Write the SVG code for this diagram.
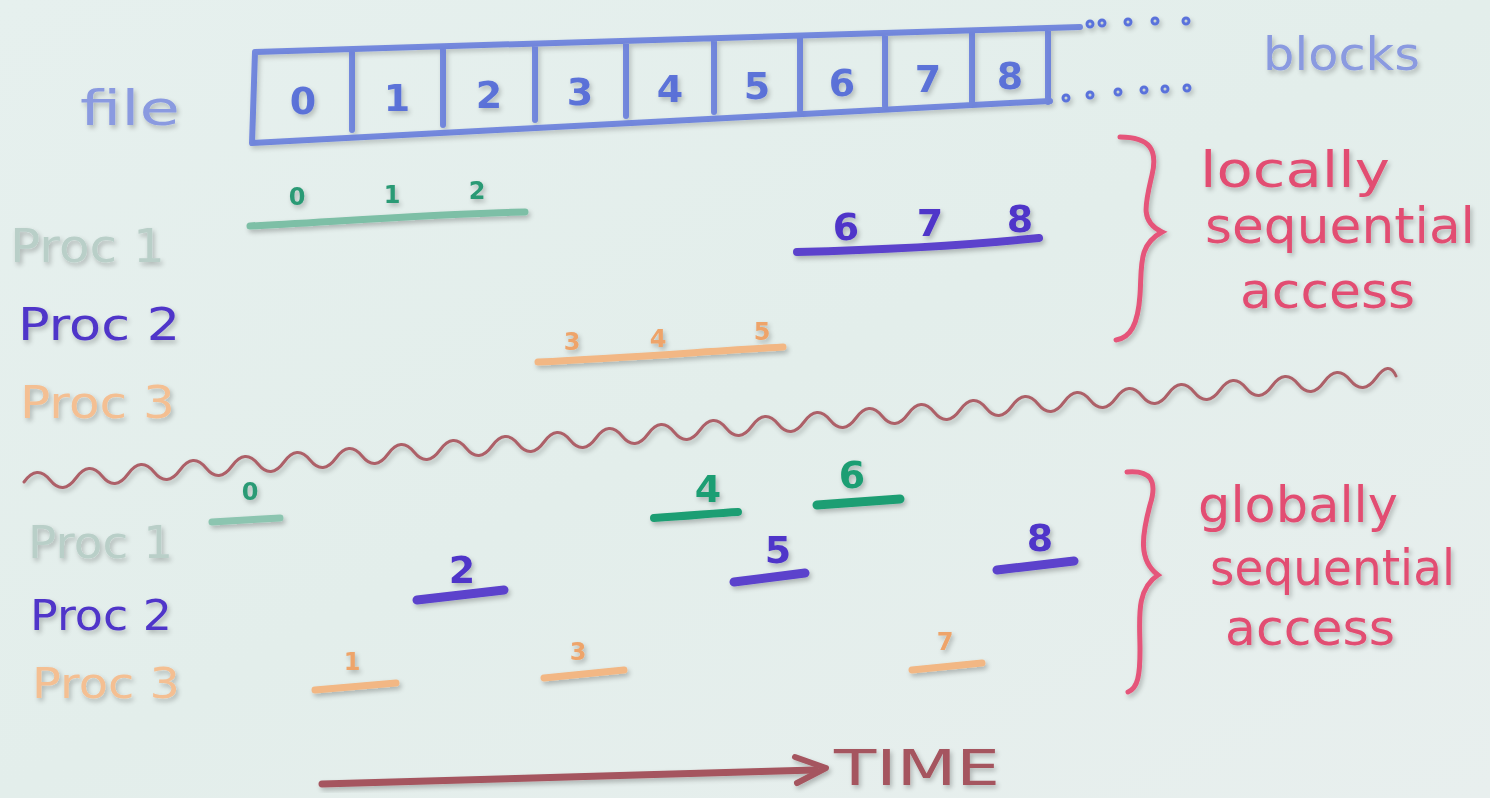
<svg xmlns="http://www.w3.org/2000/svg" width="1490" height="798" viewBox="0 0 1490 798">
<defs>
<linearGradient id="bg" x1="0" y1="0" x2="1" y2="1">
<stop offset="0" stop-color="#e6f0ee"/>
<stop offset="0.5" stop-color="#e3eeeb"/>
<stop offset="1" stop-color="#e8efee"/>
</linearGradient>
<filter id="ink" x="-10%" y="-30%" width="120%" height="160%">
<feGaussianBlur in="SourceAlpha" stdDeviation="2.5"/>
<feOffset dx="2" dy="3" result="b"/>
<feComponentTransfer><feFuncA type="linear" slope="0.25"/></feComponentTransfer>
<feMerge><feMergeNode/><feMergeNode in="SourceGraphic"/></feMerge>
</filter>
</defs>
<style>
text{font-family:"DejaVu Sans","Liberation Sans",sans-serif;}
.blue{fill:#5068d8;}
.lblue{fill:#8a9ae0;}
.pink{fill:#e24d72;}
.pinks{stroke:#e5557a;}
.g1{fill:#b9cfc8;}
.pu{fill:#4f36c9;}
.or{fill:#f4bf92;}
.seg{fill:none;stroke-linecap:round;}
.strip{fill:none;stroke:#5a72db;stroke-width:6;stroke-linecap:round;stroke-linejoin:round;opacity:0.8;}
.num{font-size:38px;text-anchor:middle;}
.small{font-size:24px;text-anchor:middle;font-weight:bold;}
</style>
<rect x="0" y="0" width="1490" height="798" fill="url(#bg)"/>

<g id="file-label" filter="url(#ink)">
<text x="80" y="125" class="lblue" font-size="48" textLength="100" lengthAdjust="spacingAndGlyphs">file</text>
</g>

<g id="file-strip" filter="url(#ink)">
<path class="strip" d="M255,52 L1080,27 M252,143 L1050,101 M255,52 L252,143 M352,50 L352,130 M443,47 L443,125 M535,44 L535,120 M626,42 L626,116 M714,40 L714,112 M800,37 L800,110 M885,35 L885,106 M972,33 L972,103 M1048,30 L1048,102"/>
<g class="blue" opacity="0.9" font-weight="bold">
<text class="num" x="303" y="114" font-size="40">0</text>
<text class="num" x="397" y="111">1</text>
<text class="num" x="489" y="108">2</text>
<text class="num" x="580" y="105" font-size="40">3</text>
<text class="num" x="670" y="102">4</text>
<text class="num" x="757" y="99">5</text>
<text class="num" x="842" y="96" font-size="40">6</text>
<text class="num" x="928" y="92">7</text>
<text class="num" x="1010" y="89" font-size="40">8</text>
</g>
<g fill="none" stroke="#5a72db" stroke-width="3">
<circle cx="1090" cy="24" r="3"/><circle cx="1102" cy="23" r="3"/><circle cx="1128" cy="22" r="3"/><circle cx="1155" cy="21" r="3"/><circle cx="1186" cy="21" r="3"/>
<circle cx="1066" cy="98" r="3"/><circle cx="1090" cy="95" r="3"/><circle cx="1118" cy="92" r="3"/><circle cx="1144" cy="90" r="3"/><circle cx="1165" cy="89" r="3"/><circle cx="1187" cy="88" r="3"/>
</g>
</g>

<g id="blocks-label" filter="url(#ink)">
<text x="1263" y="70" class="lblue" font-size="46" textLength="157" lengthAdjust="spacingAndGlyphs">blocks</text>
</g>

<g id="local-brace" filter="url(#ink)">
<path class="seg pinks" stroke-width="5" d="M1120,137 C1150,137 1158,150 1152,175 C1145,205 1140,222 1162,232 C1138,245 1142,265 1140,295 C1138,325 1130,338 1116,340"/>
<text x="1200" y="187" class="pink" font-size="50" textLength="190" lengthAdjust="spacingAndGlyphs">locally</text>
<text x="1205" y="243" class="pink" font-size="50" textLength="270" lengthAdjust="spacingAndGlyphs">sequential</text>
<text x="1240" y="308" class="pink" font-size="50" textLength="175" lengthAdjust="spacingAndGlyphs">access</text>
</g>

<g id="local-proc-labels" filter="url(#ink)">
<text x="10" y="262" class="g1" font-size="46" textLength="155" lengthAdjust="spacingAndGlyphs">Proc 1</text>
<text x="18" y="340" class="pu" font-size="44" textLength="162" lengthAdjust="spacingAndGlyphs">Proc 2</text>
<text x="20" y="418" class="or" font-size="44" textLength="155" lengthAdjust="spacingAndGlyphs">Proc 3</text>
</g>

<g id="local-p1" filter="url(#ink)">
<path class="seg" stroke="#7dbfa6" stroke-width="7" d="M250,226 C330,222 430,214 525,212"/>
<g fill="#2a9a74"><text class="small" x="297" y="205">0</text><text class="small" x="392" y="203">1</text><text class="small" x="477" y="199">2</text></g>
</g>
<g id="local-p2" filter="url(#ink)">
<path class="seg" stroke="#5b43cc" stroke-width="8" d="M797,252 C880,250 960,246 1039,238"/>
<g class="pu"><text class="num" x="846" y="240" font-size="30" font-weight="bold">6</text><text class="num" x="930" y="236" font-size="30" font-weight="bold">7</text><text class="num" x="1020" y="232" font-size="32" font-weight="bold">8</text></g>
</g>
<g id="local-p3" filter="url(#ink)">
<path class="seg" stroke="#f2b784" stroke-width="7" d="M538,362 C620,358 700,352 783,347"/>
<g fill="#eea46a"><text class="small" x="572" y="350">3</text><text class="small" x="658" y="347">4</text><text class="small" x="762" y="340">5</text></g>
</g>

<g id="divider" filter="url(#ink)">
<path fill="none" stroke="#ad6068" stroke-width="3" stroke-linecap="round" stroke-linejoin="round" d="M24,482 q13,-18 26,-2 t26,-2 t26,-2 t26,-2 t26,-2 t26,-2 t26,-2 t26,-2 t26,-2 t26,-2 t26,-2 t26,-2 t26,-2 t26,-2 t26,-2 t26,-2 t26,-2 t26,-2 t26,-2 t26,-2 t26,-2 t26,-2 t26,-2 t26,-2 t26,-2 t26,-2 t26,-2 t26,-2 t26,-2 t26,-2 t26,-2 t26,-2 t26,-2 t26,-2 t26,-2 t26,-2 t26,-2 t26,-2 t26,-2 t26,-2 t26,-2 t26,-2 t26,-2 t26,-2 t26,-2 t26,-2 t26,-2 t26,-2 t26,-2 t26,-2 t26,-2 t26,-2 t20,-2"/>
</g>

<g id="global-brace" filter="url(#ink)">
<path class="seg pinks" stroke-width="5" d="M1127,472 C1150,470 1158,480 1150,505 C1142,535 1138,560 1158,575 C1135,590 1140,620 1140,650 C1140,675 1138,688 1128,692"/>
<text x="1198" y="522" class="pink" font-size="50" textLength="200" lengthAdjust="spacingAndGlyphs">globally</text>
<text x="1210" y="585" class="pink" font-size="50" textLength="245" lengthAdjust="spacingAndGlyphs">sequential</text>
<text x="1225" y="645" class="pink" font-size="50" textLength="170" lengthAdjust="spacingAndGlyphs">access</text>
</g>

<g id="global-proc-labels" filter="url(#ink)">
<text x="28" y="558" class="g1" font-size="44" textLength="145" lengthAdjust="spacingAndGlyphs">Proc 1</text>
<text x="30" y="630" class="pu" font-size="42" textLength="142" lengthAdjust="spacingAndGlyphs">Proc 2</text>
<text x="32" y="698" class="or" font-size="42" textLength="148" lengthAdjust="spacingAndGlyphs">Proc 3</text>
</g>

<g id="global-p1" filter="url(#ink)">
<path class="seg" stroke="#8cc5b0" stroke-width="7" d="M212,522 L280,518"/>
<text class="small" x="250" y="500" fill="#2a9a74">0</text>
<path class="seg" stroke="#1f9e73" stroke-width="8" d="M654,518 C690,516 715,513 738,512"/>
<text class="num" x="708" y="502" font-size="30" font-weight="bold" fill="#1f9e73">4</text>
<path class="seg" stroke="#1f9e73" stroke-width="9" d="M817,505 L900,499"/>
<text class="num" x="852" y="488" font-size="30" font-weight="bold" fill="#1f9e73">6</text>
</g>
<g id="global-p2" filter="url(#ink)">
<path class="seg" stroke="#5b43cc" stroke-width="9" d="M417,600 L504,590"/>
<text class="num" x="462" y="583" font-size="32" font-weight="bold" fill="#4f36c9">2</text>
<path class="seg" stroke="#5b43cc" stroke-width="9" d="M734,582 L805,573"/>
<text class="num" x="778" y="563" font-size="30" font-weight="bold" fill="#4f36c9">5</text>
<path class="seg" stroke="#5b43cc" stroke-width="9" d="M997,570 L1074,561"/>
<text class="num" x="1040" y="551" font-size="32" font-weight="bold" fill="#4f36c9">8</text>
</g>
<g id="global-p3" filter="url(#ink)">
<path class="seg" stroke="#f2b784" stroke-width="7" d="M315,690 L396,683"/>
<text class="small" x="352" y="670" fill="#eea46a">1</text>
<path class="seg" stroke="#f2b784" stroke-width="7" d="M544,678 L624,670"/>
<text class="small" x="578" y="660" fill="#eea46a">3</text>
<path class="seg" stroke="#f2b784" stroke-width="7" d="M912,670 L982,663"/>
<text class="small" x="945" y="650" fill="#eea46a">7</text>
</g>

<g id="connectors" filter="url(#ink)">
<path class="seg" stroke="#a5555f" stroke-width="7" d="M322,784 C450,780 650,775 815,770"/>
<path fill="none" stroke="#a5555f" stroke-width="6" stroke-linecap="round" stroke-linejoin="round" d="M795,757 L826,768 L797,783"/>
</g>

<g id="time-label" filter="url(#ink)">
<text x="834" y="785" fill="#a5555f" font-size="50" textLength="166" lengthAdjust="spacingAndGlyphs">TIME</text>
</g>
</svg>
